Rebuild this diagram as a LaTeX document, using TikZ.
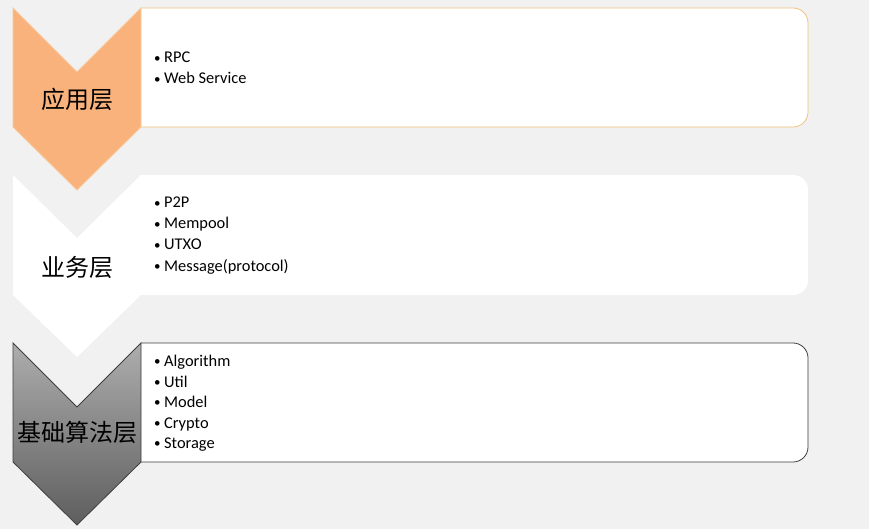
\documentclass[tikz,border=0pt]{standalone}
\usepackage{fontspec}
\setmainfont{Carlito}
\newfontfamily\cjk{Noto Sans CJK SC}
\usetikzlibrary{positioning}
\definecolor{bg}{HTML}{F1F1F1}
\definecolor{orfill}{HTML}{F9B27C}
\definecolor{orline}{HTML}{F7C99A}
\definecolor{orbox}{HTML}{F2C27E}
\definecolor{gytop}{HTML}{ADADAD}
\definecolor{gybot}{HTML}{5E5E5E}
\definecolor{gyline}{HTML}{3E3E3E}
\tikzset{
  boxshape/.style={fill=white, rounded corners=15, line width=0.8pt},
  layerlabel/.style={font=\cjk\fontsize{24}{26}\selectfont, text=black, inner sep=0pt},
  item/.style={font=\fontsize{16.4}{20}\selectfont, anchor=base west, inner sep=0pt},
}
\newcommand{\itm}[1]{\makebox[11pt][l]{\hspace{1pt}\raisebox{0.5pt}{\fontsize{13}{13}\selectfont\textbullet}}#1}
\begin{document}
\begin{tikzpicture}[x=1pt,y=-1pt]
\useasboundingbox (0,0) rectangle (869,529);
\fill[bg] (0,0) rectangle (869,529);
% layer 1
\path[boxshape, draw=orbox] (141,8) -- (808,8) -- (808,127) -- (141,127);
\path[fill=orfill, draw=orline, line width=0.8pt] (13,8) -- (77,72) -- (141,8) -- (141,127) -- (77,190) -- (13,127) -- cycle;
\node[layerlabel] (l1) at (77,99) {应用层};
\node[item] (a1) at (153,63) {\itm{RPC}};
\node[item] (a2) at (153,84) {\itm{Web Service}};
% layer 2
\path[boxshape] (141,175) -- (808,175) -- (808,295) -- (141,295);
\path[fill=white] (13,175) -- (77,238) -- (141,175) -- (141,295) -- (77,357) -- (13,295) -- cycle;
\node[layerlabel] (l2) at (77,267) {业务层};
\node[item] (b1) at (153,208) {\itm{P2P}};
\node[item] (b2) at (153,229) {\itm{Mempool}};
\node[item] (b3) at (153,250) {\itm{UTXO}};
\node[item] (b4) at (153,271) {\itm{Message(protocol)}};
% layer 3
\path[boxshape, draw=gyline] (141,343) -- (808,343) -- (808,462) -- (141,462);
\path[top color=gytop, bottom color=gybot, draw=gyline, line width=0.8pt] (13,343) -- (77,407) -- (141,343) -- (141,462) -- (77,525) -- (13,462) -- cycle;
\node[layerlabel] (l3) at (77,432) {基础算法层};
\node[item] (c1) at (153,366) {\itm{Algorithm}};
\node[item] (c2) at (153,387) {\itm{Util}};
\node[item] (c3) at (153,407) {\itm{Model}};
\node[item] (c4) at (153,428) {\itm{Crypto}};
\node[item] (c5) at (153,448) {\itm{Storage}};
\end{tikzpicture}
\end{document}
